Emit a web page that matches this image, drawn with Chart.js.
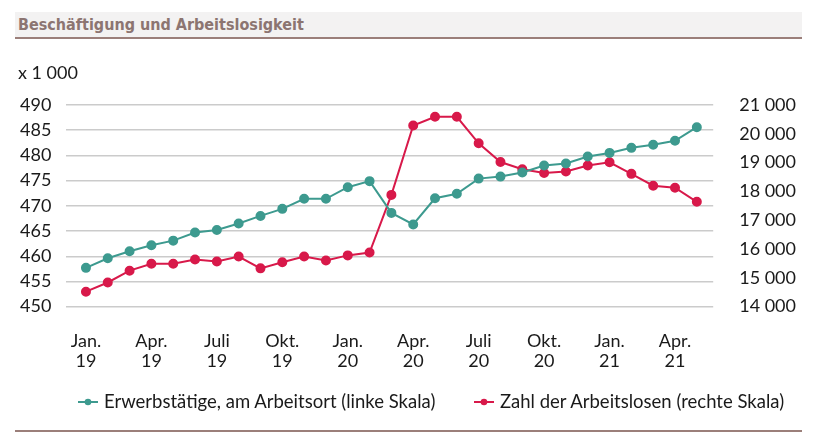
<!DOCTYPE html>
<html>
<head>
<meta charset="utf-8">
<script src="https://cdn.jsdelivr.net/npm/chart.js@4"></script>
<style>
  html, body { margin: 0; padding: 0; background: #fff; }
  #wrap { position: relative; width: 820px; height: 433px; overflow: hidden; }
  #title {
    position: absolute; left: 15px; top: 12px; width: 784px; height: 25px;
    background: #f3f2f2; border-bottom: 2px solid #9b7f7a;
    font-family: "Liberation Sans Narrow", "DejaVu Sans Condensed", sans-serif;
    font-weight: bold; font-size: 16px; color: #8c7571; line-height: 26px; padding-left: 3px;
  }
  #unit { position: absolute; left: 18px; top: 61px; font-family: Lato, sans-serif; font-size: 18px; color: #1a1a1a; }
  #bottomline { position: absolute; left: 15px; top: 430px; width: 787px; height: 2px; background: #9b7f7a; }
  .leg { position: absolute; top: 390px; font-family: Lato, sans-serif; font-size: 18.5px; color: #1a1a1a;
         line-height: 22px; white-space: nowrap; }
  .leg canvas { position: static; vertical-align: middle; margin-right: 6px; margin-top: -3px; }
  #c { position: absolute; left: 0; top: 0; }
</style>
</head>
<body>
<div id="wrap">
  <canvas id="c" width="820" height="433"></canvas>
  <div id="title">Beschäftigung und Arbeitslosigkeit</div>
  <div id="unit">x 1 000</div>
  <div class="leg" id="leg0" style="left:78px"></div>
  <div class="leg" id="leg1" style="left:474px"></div>
  <div id="bottomline"></div>
</div>
<script>
// Monate Jan. 2019 bis Mai 2021
const months = ['Jan.|19','Feb.|19','März|19','Apr.|19','Mai|19','Juni|19','Juli|19','Aug.|19','Sep.|19','Okt.|19','Nov.|19','Dez.|19',
                'Jan.|20','Feb.|20','März|20','Apr.|20','Mai|20','Juni|20','Juli|20','Aug.|20','Sep.|20','Okt.|20','Nov.|20','Dez.|20',
                'Jan.|21','Feb.|21','März|21','Apr.|21','Mai|21']

// Erwerbstätige (x 1 000, linke Skala)
const erwerbstaetige = [457.7, 459.6, 461.0, 462.2, 463.1, 464.7, 465.2, 466.5, 468.0, 469.4, 471.4, 471.4,
                        473.7, 474.9, 468.6, 466.3, 471.5, 472.4, 475.4, 475.8, 476.6, 478.0, 478.4, 479.8,
                        480.5, 481.5, 482.1, 482.9, 485.6]

// Zahl der Arbeitslosen (rechte Skala)
const arbeitslose = [14520, 14840, 15250, 15490, 15490, 15640, 15570, 15740, 15330, 15540, 15740, 15600,
                     15780, 15880, 17880, 20290, 20590, 20590, 19670, 19020, 18770, 18640, 18690, 18900,
                     19010, 18610, 18200, 18130, 17640]

const green = '#3d9a8f'
const red = '#d8194a'
const font = 'Lato'
const tickFont = { family: font, size: 18, lineHeight: 1.12 }

function legendSymbol(color){
    const cv = document.createElement('canvas')
    cv.width = 20; cv.height = 10
    const g = cv.getContext('2d')
    g.strokeStyle = color; g.lineWidth = 2
    g.beginPath(); g.moveTo(0, 5); g.lineTo(20, 5); g.stroke()
    g.fillStyle = color
    g.beginPath(); g.arc(10, 5, 3.3, 0, Math.PI * 2); g.fill()
    return cv
}

const toPoints = arr => arr.map((v, i) => ({x: i, y: v}))

const chart = new Chart(document.getElementById('c'), {
    type: 'line',
    data: {
        datasets: [
            {
                label: 'Erwerbstätige, am Arbeitsort (linke Skala)',
                data: toPoints(erwerbstaetige),
                borderColor: green, backgroundColor: green,
                borderWidth: 2, pointRadius: 4, pointHoverRadius: 4,
                yAxisID: 'y'
            },
            {
                label: 'Zahl der Arbeitslosen (rechte Skala)',
                data: toPoints(arbeitslose),
                borderColor: red, backgroundColor: red,
                borderWidth: 2, pointRadius: 4, pointHoverRadius: 4,
                yAxisID: 'y1'
            }
        ]
    },
    options: {
        responsive: false,
        animation: false,
        layout: { padding: { top: 105, left: 5, right: 6, bottom: 46 } },
        plugins: {
            tooltip: { enabled: false },
            legend: { display: false }
        },
        scales: {
            x: {
                type: 'linear',
                min: -0.9, max: 28.75,
                afterBuildTicks: axis => {
                    axis.ticks = months.map((m, i) => ({value: i})).filter(t => t.value % 3 === 0)
                },
                ticks: {
                    autoSkip: false, maxRotation: 0, padding: 16,
                    color: '#1a1a1a', font: tickFont,
                    callback: v => months[v].split('|')
                },
                grid: { display: false },
                border: { display: false }
            },
            y: {
                position: 'left',
                min: 450, max: 490,
                ticks: { stepSize: 5, autoSkip: false, padding: 15, color: '#1a1a1a', font: tickFont },
                grid: { color: '#cbcbcb', lineWidth: 1.5, drawTicks: false },
                border: { display: false }
            },
            y1: {
                position: 'right',
                min: 14000, max: 21000,
                ticks: {
                    stepSize: 1000, autoSkip: false, padding: 18, color: '#1a1a1a', font: tickFont,
                    callback: v => String(v).replace(/\B(?=(\d{3})+(?!\d))/g, ' ')
                },
                grid: { display: false },
                border: { display: false }
            }
        }
    }
})

// Legende unter dem Diagramm
chart.data.datasets.forEach((ds, i) => {
    const el = document.getElementById('leg' + i)
    el.appendChild(legendSymbol(ds.borderColor))
    el.appendChild(document.createTextNode(ds.label))
})
</script>
</body>
</html>
